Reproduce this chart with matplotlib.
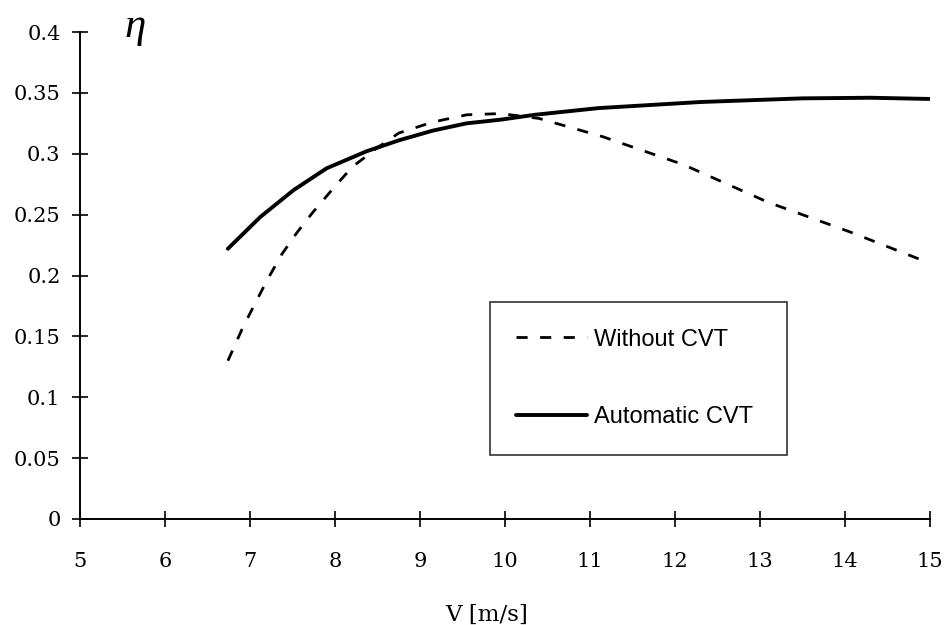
import matplotlib
matplotlib.use('Agg')
import matplotlib.pyplot as plt

# efficiency vs wind speed
v_without = [6.74, 6.92, 7.06, 7.2, 7.37, 7.55, 7.74, 7.96, 8.2, 8.5, 8.75, 9.15, 9.55, 9.95, 10.4, 11.15, 12.1, 13.1, 14.05, 15.0]
eta_without = [0.13, 0.158, 0.177, 0.196, 0.217, 0.235, 0.252, 0.27, 0.289, 0.305, 0.317, 0.326, 0.332, 0.333, 0.329, 0.314, 0.291, 0.26, 0.236, 0.21]

v_auto = [6.74, 7.12, 7.51, 7.9, 8.37, 8.75, 9.15, 9.55, 9.95, 10.35, 11.1, 12.3, 13.5, 14.3, 15.0]
eta_auto = [0.222, 0.248, 0.27, 0.288, 0.302, 0.311, 0.319, 0.325, 0.328, 0.332, 0.3375, 0.3425, 0.3455, 0.346, 0.345]

x_ticks = [5, 6, 7, 8, 9, 10, 11, 12, 13, 14, 15]
y_ticks = [0, 0.05, 0.1, 0.15, 0.2, 0.25, 0.3, 0.35, 0.4]
y_ticklabels = ['0', '0.05', '0.1', '0.15', '0.2', '0.25', '0.3', '0.35', '0.4']

SERIF = 'DejaVu Serif'
SANS = 'Liberation Sans'

fig = plt.figure(figsize=(9.5, 6.25), dpi=100)
ax = fig.add_axes([0.0842, 0.1696, 0.8948, 0.7792])

ax.plot(v_without, eta_without, color='black', lw=2.0, dashes=(4, 4.5), label='Without CVT')
ax.plot(v_auto, eta_auto, color='black', lw=2.8, solid_capstyle='round', label='Automatic CVT')

ax.set_xlim(5, 15)
ax.set_ylim(0, 0.4)
ax.set_xticks(x_ticks)
ax.set_xticklabels([str(t) for t in x_ticks], fontfamily=SERIF, fontsize=15)
ax.set_yticks(y_ticks)
ax.set_yticklabels(y_ticklabels, fontfamily=SERIF, fontsize=15)
ax.tick_params(axis='x', direction='inout', length=12, width=1.2, pad=18)
ax.tick_params(axis='y', direction='inout', length=12, width=1.2, pad=8)

for s in ['top', 'right']:
    ax.spines[s].set_visible(False)
for s in ['left', 'bottom']:
    ax.spines[s].set_linewidth(1.4)

ax.set_xlabel('V [m/s]', fontfamily=SERIF, fontsize=16.5)
ax.xaxis.set_label_coords(0.478, -0.175)

ax.text(0.065, 1.01, 'η', transform=ax.transAxes, fontfamily='Liberation Serif', style='italic',
        fontsize=31, ha='center', va='center')

leg = ax.legend(loc='upper left', bbox_to_anchor=(0.482, 0.135, 0.35, 0.31), mode='expand',
                borderaxespad=0, frameon=True, fancybox=False, edgecolor='black',
                prop={'family': SANS, 'size': 17}, handlelength=3.0, handletextpad=0.3,
                labelspacing=2.35, borderpad=1.12)
leg.get_frame().set_linewidth(1.2)

fig.savefig('out.png', dpi=100)
